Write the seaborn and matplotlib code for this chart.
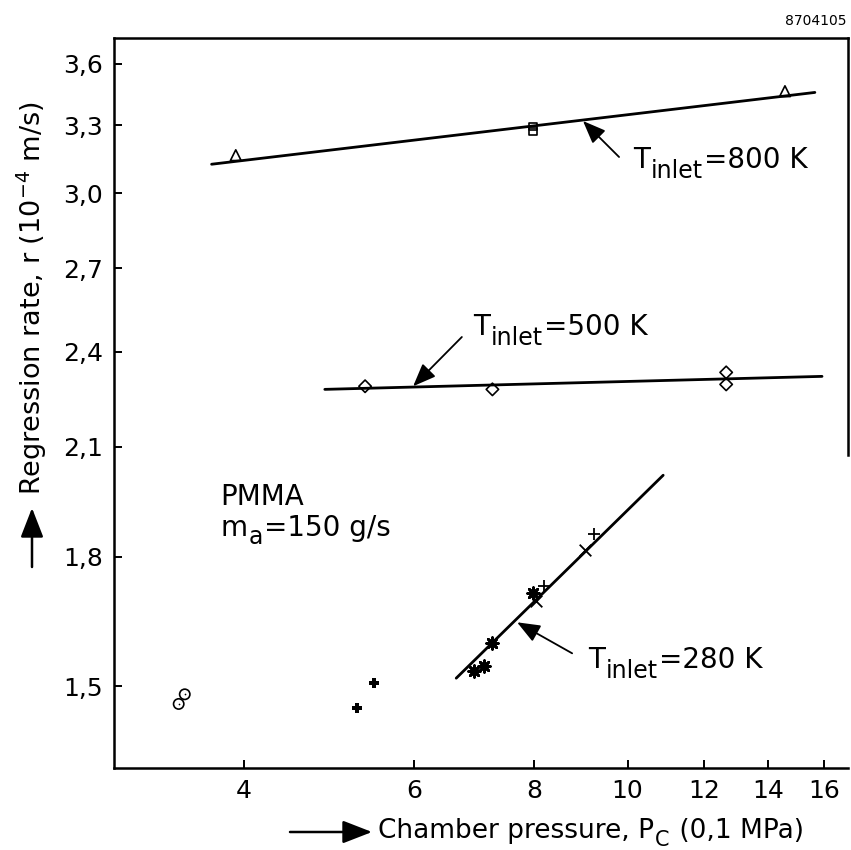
import matplotlib
matplotlib.use("Agg")
import matplotlib.pyplot as plt
from matplotlib.ticker import FixedLocator, FuncFormatter, NullLocator
import pandas as pd
import seaborn as sns

# Regression rate of PMMA versus chamber pressure, air mass flow 150 g/s
p_800_tri = [3.92, 14.57]
r_800_tri = [3.165, 3.463]
p_800_sq = [7.98, 7.98]
r_800_sq = [3.296, 3.272]
fit_800_p = [3.70, 15.65]
fit_800_r = [3.125, 3.457]

p_500 = [5.34, 7.24, 12.66, 12.66]
r_500 = [2.287, 2.277, 2.332, 2.293]
fit_500_p = [4.85, 15.92]
fit_500_r = [2.277, 2.319]

p_280_star = [6.93, 7.10, 7.24, 7.98]
r_280_star = [1.532, 1.543, 1.594, 1.710]
p_280_x = [8.04, 9.03]
r_280_x = [1.690, 1.816]
p_280_plus = [8.19, 9.23]
r_280_plus = [1.727, 1.858]
fit_280_p = [6.64, 10.89]
fit_280_r = [1.517, 2.018]

p_circle = [3.42, 3.47]
r_circle = [1.463, 1.483]
p_cross = [5.24, 5.46]
r_cross = [1.454, 1.506]

x_ticks = [4, 6, 8, 10, 12, 14, 16]
y_ticks = [1.5, 1.8, 2.1, 2.4, 2.7, 3.0, 3.3, 3.6]

sns.set_theme(style="ticks")
plt.rcParams["font.family"] = ["DejaVu Sans"]
plt.rcParams["mathtext.fontset"] = "dejavusans"
plt.rcParams["text.color"] = "black"
plt.rcParams["axes.labelcolor"] = "black"
plt.rcParams["xtick.color"] = "black"
plt.rcParams["ytick.color"] = "black"

W, H = 851, 850
fig = plt.figure(figsize=(W / 100, H / 100), dpi=100)
fig.patch.set_facecolor("white")
ax = fig.add_axes([114 / W, 1 - 768 / H, (848 - 114) / W, (768 - 38) / H])
ax.set_facecolor("white")
ax.set_xscale("log")
ax.set_yscale("log")
ax.set_xlim(2.93, 16.94)
ax.set_ylim(1.337, 3.732)

# fitted lines
for px, ry in [(fit_800_p, fit_800_r), (fit_500_p, fit_500_r), (fit_280_p, fit_280_r)]:
    sns.lineplot(x=px, y=ry, ax=ax, color="black", lw=2.0, estimator=None, sort=False)


def open_pts(px, ry, marker, size):
    df = pd.DataFrame({"p": px, "r": ry})
    sns.scatterplot(data=df, x="p", y="r", ax=ax, marker=marker, s=size,
                    facecolor="none", edgecolor="black", linewidth=1.2, zorder=3)


def line_pts(px, ry, marker, size, lw):
    df = pd.DataFrame({"p": px, "r": ry})
    sns.scatterplot(data=df, x="p", y="r", ax=ax, marker=marker, s=size,
                    color="black", linewidth=lw, zorder=3)


open_pts(p_800_tri, r_800_tri, "^", 60)
open_pts(p_800_sq, r_800_sq, "s", 28)
open_pts(p_500, r_500, "D", 40)
open_pts(p_circle, r_circle, "o", 55)
line_pts(p_circle, r_circle, ".", 6, 0)
line_pts(p_cross, r_cross, "P", 55, 0)
line_pts(p_280_star, r_280_star, (8, 2, 0), 70, 2.0)
line_pts(p_280_x, r_280_x, "x", 70, 1.3)
line_pts(p_280_plus, r_280_plus, "+", 80, 1.3)

# arrows pointing at the fitted lines
arrow_kw = dict(arrowstyle="-|>,head_length=0.7,head_width=0.28", color="black",
                lw=1.3, shrinkA=0, shrinkB=0, mutation_scale=20)
ax.annotate("", xy=(8.99, 3.321), xytext=(9.80, 3.157), arrowprops=arrow_kw)
ax.annotate("", xy=(5.99, 2.287), xytext=(6.73, 2.451), arrowprops=arrow_kw)
ax.annotate("", xy=(7.68, 1.641), xytext=(8.76, 1.571), arrowprops=arrow_kw)


def sub_text(x, y, main, sub, rest, coords="data", size=20, sub_size=17, drop=6.5):
    t1 = ax.annotate(main, xy=(x, y), xycoords=coords, fontsize=size, color="black",
                     va="baseline", ha="left", annotation_clip=False)
    t2 = ax.annotate(sub, xy=(1, 0), xycoords=t1, xytext=(0.5, -drop),
                     textcoords="offset points", fontsize=sub_size, color="black",
                     va="bottom", ha="left", annotation_clip=False)
    ax.annotate(rest, xy=(1, 0), xycoords=t2, xytext=(1, drop),
                textcoords="offset points", fontsize=size, color="black",
                va="bottom", ha="left", annotation_clip=False)


sub_text(10.13, 3.108, "T", "inlet", "=800 K")
sub_text(6.91, 2.458, "T", "inlet", "=500 K")
sub_text(9.10, 1.538, "T", "inlet", "=280 K")

ax.text(3.78, 1.935, "PMMA", fontsize=20, va="baseline", ha="left", color="black")
sub_text(3.78, 1.852, "m", "a", "=150 g/s", drop=5)

# axes styling
ax.xaxis.set_major_locator(FixedLocator(x_ticks))
ax.xaxis.set_minor_locator(NullLocator())
ax.yaxis.set_major_locator(FixedLocator(y_ticks))
ax.yaxis.set_minor_locator(NullLocator())
ax.xaxis.set_major_formatter(FuncFormatter(lambda v, _: f"{v:g}"))
ax.yaxis.set_major_formatter(FuncFormatter(lambda v, _: f"{v:.1f}".replace(".", ",")))
ax.tick_params(axis="both", which="major", direction="in", length=6, width=1.4,
               labelsize=18, colors="black", pad=8)
ax.set_xlabel("")
ax.set_ylabel("")
for side in ["left", "bottom", "top", "right"]:
    ax.spines[side].set_visible(True)
    ax.spines[side].set_color("black")
    ax.spines[side].set_linewidth(1.8)
# the right frame edge stops part-way down
ax.spines["right"].set_bounds(2.076, 3.732)

# axis titles with direction arrows
fig.text(32 / W, 1 - 495 / H, r"Regression rate, r (10$^{\mathregular{-4}}$ m/s)",
         rotation=90, ha="center", va="bottom", fontsize=19.5, color="black")
ax.annotate("", xy=(32, H - 508), xycoords="figure pixels",
            xytext=(32, H - 567), textcoords="figure pixels",
            arrowprops=dict(arrowstyle="-|>,head_length=0.9,head_width=0.35",
                            color="black", lw=1.8, shrinkA=0, shrinkB=0,
                            mutation_scale=20))
ax.annotate("", xy=(372, H - 832), xycoords="figure pixels",
            xytext=(290, H - 832), textcoords="figure pixels",
            arrowprops=dict(arrowstyle="-|>,head_length=0.9,head_width=0.35",
                            color="black", lw=1.8, shrinkA=0, shrinkB=0,
                            mutation_scale=20))
sub_text(378, H - 838, "Chamber pressure, P", "C", " (0,1 MPa)",
         coords="figure pixels", size=19, sub_size=15, drop=4)

fig.text(847 / W, 1 - 25 / H, "8704105", ha="right", va="baseline", fontsize=10,
         color="black")

fig.savefig("out.png", dpi=100, facecolor="white")
